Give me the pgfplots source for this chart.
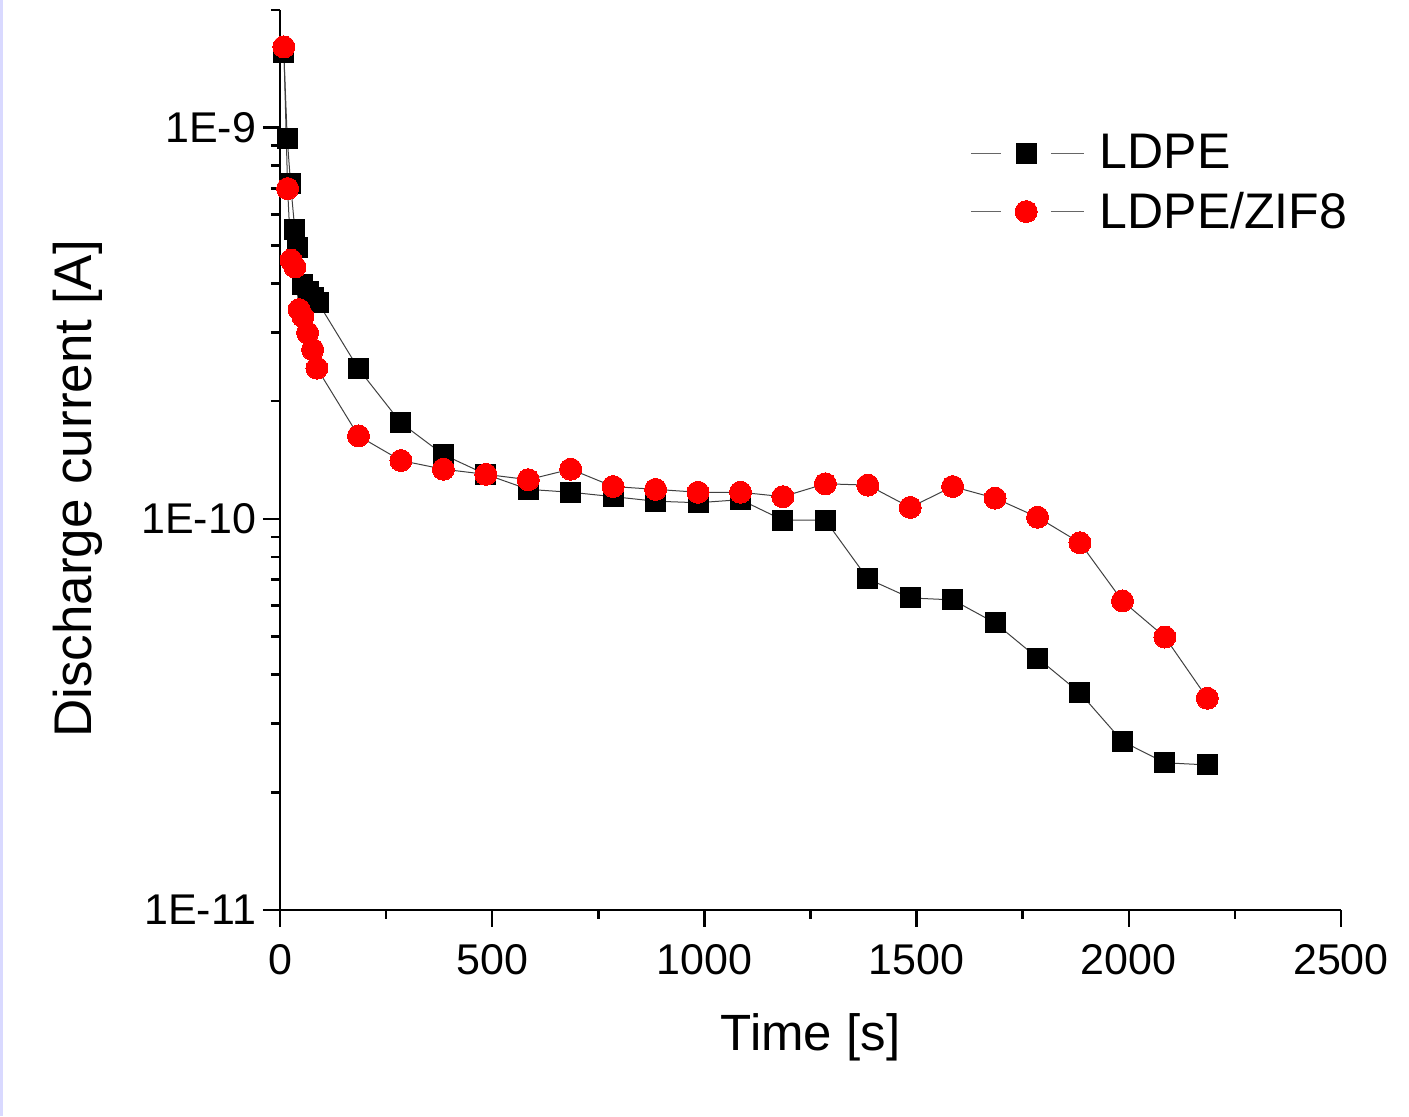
\documentclass[border=0pt]{standalone}
\usepackage{fontspec}
\setmainfont{Liberation Sans}
\usepackage{pgfplots}
\pgfplotsset{compat=1.18}

% LDPE
\newcommand{\ldpe}{
(9,1.56e-9) (17,9.4e-10) (25,7.19e-10) (35,5.48e-10) (42,4.93e-10)
(54,3.97e-10) (66,3.81e-10) (78,3.68e-10) (90,3.57e-10)
(185,2.42e-10) (285,1.76e-10) (385,1.46e-10) (485,1.30e-10) (585,1.19e-10)
(685,1.17e-10) (785,1.14e-10) (885,1.11e-10) (985,1.10e-10) (1085,1.12e-10)
(1185,9.93e-11) (1285,9.93e-11) (1385,7.03e-11) (1485,6.28e-11) (1585,6.21e-11)
(1685,5.42e-11) (1785,4.41e-11) (1885,3.59e-11) (1985,2.70e-11) (2085,2.38e-11)
(2185,2.35e-11)
}
% LDPE/ZIF8
\newcommand{\zif}{
(9,1.61e-9) (18,6.99e-10) (26,4.59e-10) (35,4.41e-10) (45,3.43e-10)
(54,3.29e-10) (65,2.99e-10) (77,2.71e-10) (87,2.43e-10)
(185,1.63e-10) (285,1.41e-10) (385,1.34e-10) (485,1.30e-10) (585,1.26e-10)
(685,1.34e-10) (785,1.21e-10) (885,1.19e-10) (985,1.17e-10) (1085,1.17e-10)
(1185,1.14e-10) (1285,1.23e-10) (1385,1.22e-10) (1485,1.07e-10) (1585,1.21e-10)
(1685,1.13e-10) (1785,1.01e-10) (1885,8.69e-11) (1985,6.17e-11) (2085,4.99e-11)
(2185,3.48e-11)
}

\begin{document}
\begin{tikzpicture}
\useasboundingbox (-140pt,-103pt) rectangle (564.5pt,455pt);
\draw[blue!15, line width=1.5pt] (-139pt,-103pt) -- (-139pt,455pt);
\begin{axis}[
  at={(0,0)}, anchor=south west,
  scale only axis,
  width=530.5pt, height=450pt,
  xmin=0, xmax=2500,
  ymode=log, ymin=1e-11, ymax=2e-9,
  axis x line*=bottom, axis y line*=left,
  axis line style={line width=1.3pt},
  every tick/.style={black, line width=1.3pt},
  tick align=outside,
  major tick length=8.5pt,
  minor tick length=4.5pt,
  xtick={0,500,1000,1500,2000,2500},
  xticklabels={0,500,1000,1500,2000,2500},
  minor xtick={250,750,1250,1750,2250},
  ytick={1e-11,1e-10,1e-9},
  yticklabels={1E-11,1E-10,1E-9},
  minor ytick={2e-11,3e-11,4e-11,5e-11,6e-11,7e-11,8e-11,9e-11,
               2e-10,3e-10,4e-10,5e-10,6e-10,7e-10,8e-10,9e-10,2e-9},
  tick label style={font=\fontsize{21.5}{25}\selectfont},
  xticklabel style={yshift=-5pt},
  xlabel={Time [s]},
  ylabel={Discharge current [A]},
  xlabel style={font=\fontsize{25.5}{30}\selectfont,
    at={(axis description cs:0.5,-0.141)}, anchor=center},
  ylabel style={font=\fontsize{26.5}{30}\selectfont,
    at={(axis description cs:-0.191,0.468)}, anchor=center},
  legend style={draw=none, fill=none,
    at={(axis description cs:0.645,0.808)}, anchor=west,
    font=\fontsize{25}{30}\selectfont,
    row sep=6pt},
  legend cell align=left,
  legend image code/.code={
    \draw[#1, black!60, mark=none] (0pt,0pt) -- (15pt,0pt);
    \draw[#1, black!60, mark=none] (40pt,0pt) -- (56.5pt,0pt);
    \draw[#1, only marks] plot coordinates {(27.5pt,0pt)};
    \path (62pt,0pt);
  },
  clip=false,
]
\addplot[black!75, line width=0.5pt, mark=square*, mark size=5pt,
  mark options={draw=black, fill=black, line width=0pt}] coordinates {\ldpe};
\addlegendentry{LDPE}
\addplot[black!75, line width=0.5pt, mark=*, mark size=5.5pt,
  mark options={draw=red, fill=red, line width=0pt}] coordinates {\zif};
\addlegendentry{LDPE/ZIF8}
\end{axis}
\end{tikzpicture}
\end{document}
